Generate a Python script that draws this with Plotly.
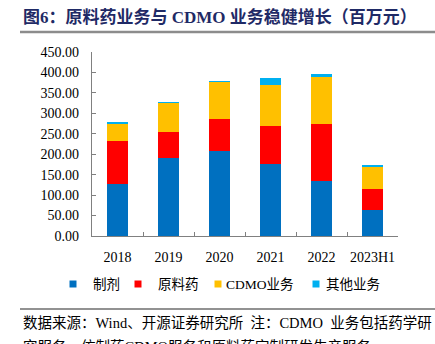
import plotly.graph_objects as go

# Revenue by business line, million yuan
years = ["2018", "2019", "2020", "2021", "2022", "2023H1"]
formulation = [128.0, 190.0, 208.0, 177.0, 134.6, 63.7]
api = [104.5, 64.6, 79.0, 91.5, 140.4, 50.3]
cdmo = [42.5, 71.0, 90.0, 100.5, 112.7, 57.0]
other = [3.0, 1.5, 1.5, 17.8, 7.3, 3.0]

series_names = ["制剂", "原料药", "CDMO业务", "其他业务"]
series_values = [formulation, api, cdmo, other]
series_colors = ["#0070C0", "#FF0000", "#FFC000", "#00B0F0"]

W, H = 435, 344
L, R, T, B = 92, 398, 52, 236  # plot area in pixels

SERIF = "Liberation Serif, 'Times New Roman', 'Noto Sans CJK SC', serif"
CJK = "'Liberation Serif', 'Noto Sans CJK SC', sans-serif"


def px(x):
    return (x - L) / (R - L)


def py(y):
    return (B - y) / (B - T)


fig = go.Figure()
for name, vals, color in zip(series_names, series_values, series_colors):
    fig.add_trace(go.Bar(
        x=years, y=vals, name=name, width=0.41,
        marker=dict(color=color, line=dict(width=0)),
        showlegend=False,
    ))

shapes = []
annotations = []

# Title and rules
annotations.append(dict(
    text="<b>图6：原料药业务与 CDMO 业务稳健增长（百万元）</b>",
    xref="paper", yref="paper", x=px(21), y=py(17),
    xanchor="left", yanchor="middle", showarrow=False,
    font=dict(family=CJK, size=17, color="#1F2A66"),
))
shapes.append(dict(type="line", xref="paper", yref="paper",
                   x0=px(20), x1=px(440), y0=py(32), y1=py(32),
                   line=dict(color="#8C8C8C", width=2.5)))
shapes.append(dict(type="line", xref="paper", yref="paper",
                   x0=px(20), x1=px(440), y0=py(309), y1=py(309),
                   line=dict(color="#6E6E6E", width=1.5)))

# Legend drawn as small squares plus labels
legend_sq = [73, 138, 218, 316]
legend_tx = [91, 156, 224, 324]
legend_y = 284
for name, color, sx, tx in zip(series_names, series_colors, legend_sq, legend_tx):
    shapes.append(dict(type="rect", xref="paper", yref="paper",
                       x0=px(sx - 3.5), x1=px(sx + 3.5),
                       y0=py(legend_y + 3.5), y1=py(legend_y - 3.5),
                       fillcolor=color, line=dict(width=0)))
    annotations.append(dict(
        text=name, xref="paper", yref="paper", x=px(tx), y=py(legend_y),
        xanchor="left", yanchor="middle", showarrow=False,
        font=dict(family=CJK, size=13.5, color="#000000"),
    ))

# Source note (second line runs past the bottom edge of the page)
annotations.append(dict(
    text="数据来源：Wind、开源证券研究所  注：CDMO  业务包括药学研",
    xref="paper", yref="paper", x=px(21), y=py(323),
    xanchor="left", yanchor="middle", showarrow=False,
    font=dict(family=CJK, size=14.5, color="#000000"),
))
annotations.append(dict(
    text="究服务、仿制药CDMO服务和原料药定制研发生产服务",
    xref="paper", yref="paper", x=px(21), y=py(347),
    xanchor="left", yanchor="middle", showarrow=False,
    font=dict(family=CJK, size=14.5, color="#000000"),
))

fig.update_layout(
    width=W, height=H,
    margin=dict(l=L, r=W - R, t=T, b=H - B, pad=0),
    barmode="stack",
    plot_bgcolor="white", paper_bgcolor="white",
    shapes=shapes, annotations=annotations,
    font=dict(family=SERIF, size=14, color="#000000"),
)
fig.update_xaxes(
    type="category", showgrid=False, showline=True,
    linecolor="#808080", linewidth=1.3, tickangle=0,
    ticks="inside", tickson="boundaries", ticklen=4, tickcolor="#808080",
    tickfont=dict(family=SERIF, size=14), ticklabelstandoff=8,
)
fig.update_yaxes(
    range=[0, 450], dtick=50, tickformat=".2f", showgrid=False,
    showline=True, linecolor="#808080", linewidth=1.3,
    ticks="inside", ticklen=4, tickcolor="#808080",
    tickfont=dict(family=SERIF, size=14), ticklabelstandoff=9,
    zeroline=False,
)

fig.write_html("out.html")
